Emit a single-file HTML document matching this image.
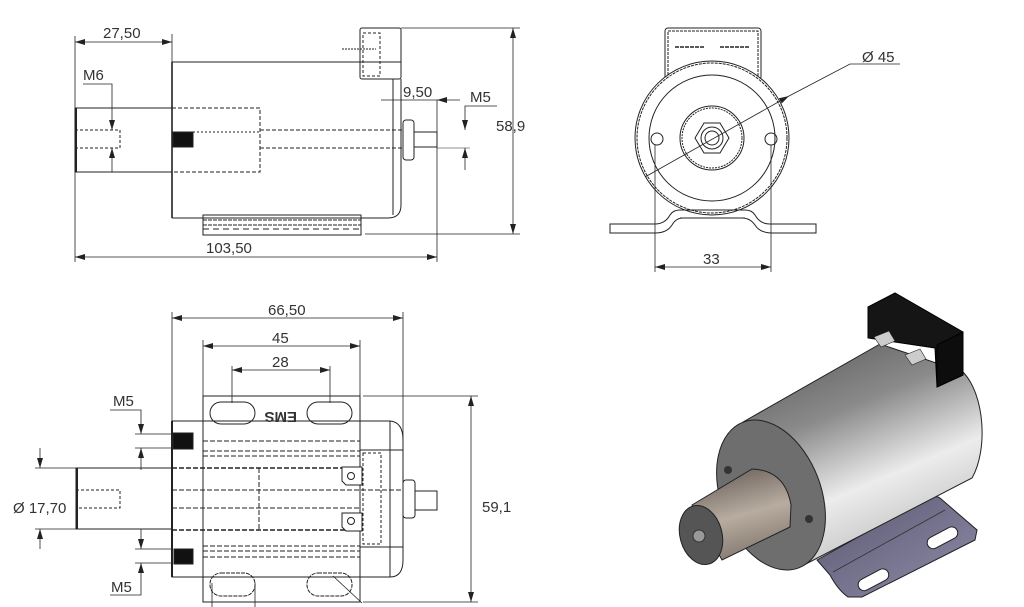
<!DOCTYPE html>
<html><head><meta charset="utf-8"><style>
html,body{margin:0;padding:0;background:#fff;}
svg{display:block}
text{font-family:"Liberation Sans",sans-serif;font-size:15px;fill:#333;}
</style></head><body>
<svg width="1024" height="607" viewBox="0 0 1024 607" xmlns="http://www.w3.org/2000/svg">
<defs>
<marker id="a" viewBox="0 0 10 6" refX="10" refY="3" markerWidth="10" markerHeight="6" orient="auto-start-reverse" markerUnits="userSpaceOnUse"><path d="M0,0 L10,3 L0,6 Z" fill="#222"/></marker>
<linearGradient id="body" x1="0" y1="0" x2="0.45" y2="1">
<stop offset="0" stop-color="#555"/><stop offset="0.4" stop-color="#8a8a8a"/><stop offset="0.72" stop-color="#ececec"/><stop offset="1" stop-color="#c4c4c4"/></linearGradient>
<linearGradient id="shaft" x1="0" y1="0" x2="0.3" y2="1">
<stop offset="0" stop-color="#5e5650"/><stop offset="0.6" stop-color="#b8aca0"/><stop offset="1" stop-color="#8a7f75"/></linearGradient>
<linearGradient id="plate" x1="0" y1="0" x2="1" y2="1">
<stop offset="0" stop-color="#5a5870"/><stop offset="1" stop-color="#8e8ca8"/></linearGradient>
</defs>

<g fill="none" stroke="#222" stroke-width="1">
<line x1="75" y1="36" x2="75" y2="262" stroke-width="0.8"/>
<line x1="172" y1="34" x2="172" y2="62" stroke-width="0.8"/>
<line x1="75" y1="42" x2="172" y2="42" marker-start="url(#a)" marker-end="url(#a)" stroke-width="0.8"/>
<line x1="75" y1="257" x2="437" y2="257" marker-start="url(#a)" marker-end="url(#a)" stroke-width="0.8"/>
<line x1="437" y1="100" x2="437" y2="262" stroke-width="0.8"/>
<line x1="401" y1="28" x2="520" y2="28" stroke-width="0.8"/>
<line x1="365" y1="234" x2="520" y2="234" stroke-width="0.8"/>
<line x1="513" y1="28" x2="513" y2="234" marker-start="url(#a)" marker-end="url(#a)" stroke-width="0.8"/>
<line x1="381" y1="100" x2="437" y2="100" stroke-width="0.8"/>
<line x1="437" y1="100" x2="460" y2="100" marker-start="url(#a)" stroke-width="0.8"/>
<polyline points="497,106 465,106 465,130" marker-end="url(#a)" stroke-width="0.8"/>
<line x1="465" y1="170" x2="465" y2="148" marker-end="url(#a)" stroke-width="0.8"/>
<line x1="437" y1="148" x2="470" y2="148" stroke-width="0.6"/>
<polyline points="83,84 112,84 112,130" marker-end="url(#a)" stroke-width="0.8"/>
<line x1="112" y1="172" x2="112" y2="148" marker-end="url(#a)" stroke-width="0.8"/>
<line x1="172" y1="62" x2="172" y2="218" stroke-width="1.6"/>
<line x1="172" y1="62" x2="400" y2="62"/>
<line x1="172" y1="218" x2="388" y2="218"/>
<path d="M388,218 Q401,218 401,205 L401,79"/>
<line x1="393" y1="79" x2="393" y2="215"/>
<rect x="360" y="28" width="41" height="51" rx="2"/>
<rect x="363" y="33" width="17" height="43" stroke-dasharray="3,2"/>
<line x1="380" y1="62" x2="401" y2="62" stroke-dasharray="3,2"/>
<line x1="342" y1="49" x2="376" y2="49" stroke-dasharray="2,1"/>
<rect x="75" y="108" width="97" height="64"/>
<line x1="76" y1="108" x2="76" y2="172" stroke-width="2"/>
<path d="M75,130 L120,130 L120,148 L75,148" stroke-dasharray="3,2"/>
<path d="M172,108 L260,108 L260,172 L172,172" stroke-dasharray="4,2"/>
<rect x="173" y="132" width="20" height="15" fill="#111"/>
<line x1="260" y1="130" x2="403" y2="130" stroke-dasharray="4,2"/>
<line x1="260" y1="148" x2="403" y2="148" stroke-dasharray="4,2"/>
<line x1="193" y1="132" x2="260" y2="132" stroke-dasharray="2,2"/>
<rect x="403" y="120" width="11" height="40" rx="3"/>
<rect x="414" y="132" width="23" height="15"/>
<rect x="203" y="215" width="158" height="20"/>
<line x1="203" y1="220" x2="361" y2="220" stroke-dasharray="4,1"/>
<line x1="203" y1="225" x2="361" y2="225" stroke-dasharray="4,1"/>
<line x1="203" y1="229" x2="361" y2="229" stroke-dasharray="6,4"/>

<rect x="665" y="28" width="96" height="52" rx="3"/>
<rect x="668" y="31" width="90" height="48" stroke-dasharray="3,1"/>
<line x1="675" y1="47" x2="705" y2="47" stroke-dasharray="4,1" stroke-width="1.5"/>
<line x1="720" y1="47" x2="750" y2="47" stroke-dasharray="4,1" stroke-width="1.5"/>
<circle cx="712" cy="138" r="77" fill="#fff"/>
<circle cx="712" cy="138" r="75" stroke-dasharray="3,1"/>
<circle cx="712" cy="138" r="63"/>
<circle cx="712" cy="138" r="32"/>
<circle cx="712" cy="138" r="30" stroke-dasharray="2,1"/>
<polygon points="729,138 720,123 704,123 695,138 704,153 720,153"/>
<circle cx="712" cy="138" r="11"/>
<circle cx="712" cy="138" r="7"/>
<circle cx="657" cy="139" r="6"/>
<circle cx="771" cy="139" r="6"/>
<path d="M610,224 L655,224 Q665,224 670,215 Q673,210 680,210 L745,210 Q752,210 755,215 Q760,224 770,224 L816,224 L816,233 L772,233 Q760,233 755,225 Q750,218 742,218 L683,218 Q676,218 672,225 Q667,233 655,233 L610,233 Z"/>
<line x1="680" y1="218" x2="745" y2="218"/>
<line x1="655" y1="145" x2="655" y2="272" stroke-width="0.8"/>
<line x1="771" y1="145" x2="771" y2="272" stroke-width="0.8"/>
<line x1="655" y1="267" x2="771" y2="267" marker-start="url(#a)" marker-end="url(#a)" stroke-width="0.8"/>
<line x1="645" y1="177" x2="789" y2="96" marker-end="url(#a)" stroke-width="0.8"/>
<polyline points="789,96 850,64 900,64" stroke-width="0.8"/>

<line x1="172" y1="312" x2="172" y2="421" stroke-width="0.8"/>
<line x1="403" y1="312" x2="403" y2="450" stroke-width="0.8"/>
<line x1="172" y1="318" x2="403" y2="318" marker-start="url(#a)" marker-end="url(#a)" stroke-width="0.8"/>
<line x1="203" y1="340" x2="203" y2="396" stroke-width="0.8"/>
<line x1="360" y1="340" x2="360" y2="396" stroke-width="0.8"/>
<line x1="203" y1="346" x2="360" y2="346" marker-start="url(#a)" marker-end="url(#a)" stroke-width="0.8"/>
<line x1="232" y1="366" x2="232" y2="403" stroke-width="0.8"/>
<line x1="330" y1="366" x2="330" y2="403" stroke-width="0.8"/>
<line x1="232" y1="370" x2="330" y2="370" marker-start="url(#a)" marker-end="url(#a)" stroke-width="0.8"/>
<line x1="363" y1="396" x2="478" y2="396" stroke-width="0.8"/>
<line x1="363" y1="602" x2="478" y2="602" stroke-width="0.8"/>
<line x1="471" y1="396" x2="471" y2="602" marker-start="url(#a)" marker-end="url(#a)" stroke-width="0.8"/>
<rect x="203" y="396" width="157" height="206"/>
<rect x="210" y="402" width="45" height="22" rx="11"/>
<rect x="307" y="402" width="45" height="22" rx="11"/>
<rect x="210" y="573" width="45" height="23" rx="11" stroke-dasharray="4,1"/>
<rect x="307" y="573" width="45" height="23" rx="11" stroke-dasharray="4,1"/>
<line x1="212" y1="583" x2="212" y2="607" stroke-width="0.8"/>
<line x1="255" y1="583" x2="255" y2="607" stroke-width="0.8"/>
<line x1="333" y1="576" x2="362" y2="603" stroke-width="0.8"/>
<rect x="172" y="421" width="218" height="156" fill="none"/>
<line x1="172" y1="421" x2="172" y2="577" stroke-width="2"/>
<path d="M390,421 Q403,422 403,440 L403,560 Q403,577 390,577"/>
<g stroke-dasharray="5,2">
<line x1="203" y1="441" x2="360" y2="441"/>
<line x1="203" y1="451" x2="360" y2="451"/>
<line x1="203" y1="456" x2="360" y2="456"/>
<line x1="172" y1="468" x2="360" y2="468" stroke-width="1.6"/>
<line x1="172" y1="490" x2="403" y2="490"/>
<line x1="172" y1="508" x2="360" y2="508"/>
<line x1="172" y1="530" x2="360" y2="530" stroke-width="1.6"/>
<line x1="203" y1="546" x2="360" y2="546"/>
<line x1="203" y1="551" x2="360" y2="551"/>
<line x1="203" y1="557" x2="360" y2="557"/>
<line x1="259" y1="468" x2="259" y2="530"/>
<line x1="203" y1="421" x2="203" y2="577"/>
<line x1="360" y1="421" x2="360" y2="577"/>
</g>
<rect x="173" y="433" width="20" height="16" fill="#111"/>
<rect x="174" y="549" width="19" height="15" fill="#111"/>
<rect x="360" y="450" width="43" height="97"/>
<rect x="363" y="453" width="18" height="91" stroke-dasharray="3,2"/>
<path d="M342,467 L362,467 L362,485 L346,485 L342,481 Z" fill="#fff"/>
<circle cx="351" cy="476" r="3.5"/>
<path d="M342,513 L362,513 L362,531 L346,531 L342,527 Z" fill="#fff"/>
<circle cx="351" cy="521" r="3.5"/>
<rect x="403" y="480" width="12" height="38" rx="3"/>
<rect x="415" y="491" width="22" height="19"/>
<rect x="76" y="468" width="96" height="61"/>
<line x1="77" y1="468" x2="77" y2="529" stroke-width="2"/>
<path d="M76,490 L120,490 L120,508 L76,508" stroke-dasharray="3,2"/>
<line x1="35" y1="468" x2="76" y2="468" stroke-width="0.8"/>
<line x1="35" y1="529" x2="76" y2="529" stroke-width="0.8"/>
<line x1="40" y1="448" x2="40" y2="468" marker-end="url(#a)" stroke-width="0.8"/>
<line x1="40" y1="549" x2="40" y2="529" marker-end="url(#a)" stroke-width="0.8"/>
<line x1="135" y1="434" x2="172" y2="434" stroke-width="0.8"/>
<line x1="135" y1="448" x2="172" y2="448" stroke-width="0.8"/>
<polyline points="110,410 141,410 141,434" marker-end="url(#a)" stroke-width="0.8"/>
<line x1="141" y1="470" x2="141" y2="448" marker-end="url(#a)" stroke-width="0.8"/>
<line x1="135" y1="549" x2="172" y2="549" stroke-width="0.8"/>
<line x1="135" y1="563" x2="172" y2="563" stroke-width="0.8"/>
<line x1="141" y1="529" x2="141" y2="549" marker-end="url(#a)" stroke-width="0.8"/>
<polyline points="110,595 141,595 141,563" marker-end="url(#a)" stroke-width="0.8"/>
</g>

<text x="103" y="38">27,50</text>
<text x="83" y="80">M6</text>
<text x="403" y="97">9,50</text>
<text x="470" y="102">M5</text>
<text x="496" y="131">58,9</text>
<text x="206" y="253">103,50</text>
<text x="862" y="62">Ø 45</text>
<text x="703" y="264">33</text>
<text x="268" y="315">66,50</text>
<text x="272" y="343">45</text>
<text x="272" y="367">28</text>
<text x="113" y="406">M5</text>
<text x="111" y="592">M5</text>
<text x="13" y="513">Ø 17,70</text>
<text x="482" y="512">59,1</text>
<text x="267" y="422" transform="rotate(180 282 417)" style="font-size:15px;font-weight:bold">EMS</text>

<!-- 3D VIEW -->
<path d="M817,560 L930,497 Q935,495 940,498 L977,530 L975,540 L862,597 L848,597 Q838,590 830,575 Z" fill="url(#plate)" stroke="#222" stroke-width="1"/>
<line x1="833" y1="572" x2="945" y2="510" stroke="#333" stroke-width="0.8"/>
<rect x="857" y="574" width="33" height="12" rx="6" transform="rotate(-28 873 580)" fill="#fff" stroke="#222"/>
<rect x="926" y="532" width="33" height="12" rx="6" transform="rotate(-28 942 538)" fill="#fff" stroke="#222"/>
<path d="M743,422 L880,344 L963,372 C985,395 988,450 972,478 L800,567 Z" fill="url(#body)" stroke="#222" stroke-width="1"/>
<!-- black box -->
<polygon points="868,307 895,293 963,332 963,375 937,387 935,348 868,338" fill="#151515" stroke="#000"/>
<polygon points="937,345 963,332 963,375 937,387" fill="#0d0d0d" stroke="#000"/>
<polygon points="874,337 889,331 895,341 881,347" fill="#ccc" stroke="#222" stroke-width="0.6"/>
<polygon points="905,355 920,349 926,359 912,365" fill="#ccc" stroke="#222" stroke-width="0.6"/>
<ellipse cx="771" cy="495" rx="50" ry="78" transform="rotate(-21 771 495)" fill="#6e6e6e" stroke="#222"/>
<circle cx="728" cy="470" r="4" fill="#333"/>
<circle cx="809" cy="519" r="4" fill="#333"/>
<path d="M692,505 L752,469 Q785,470 791,505 L790,527 L722,560 Z" fill="url(#shaft)" stroke="#222"/>
<ellipse cx="701" cy="535" rx="21" ry="30" transform="rotate(-15 701 535)" fill="#555" stroke="#222"/>
<circle cx="699" cy="536" r="6" fill="#999" stroke="#333"/>
</svg>
</body></html>
